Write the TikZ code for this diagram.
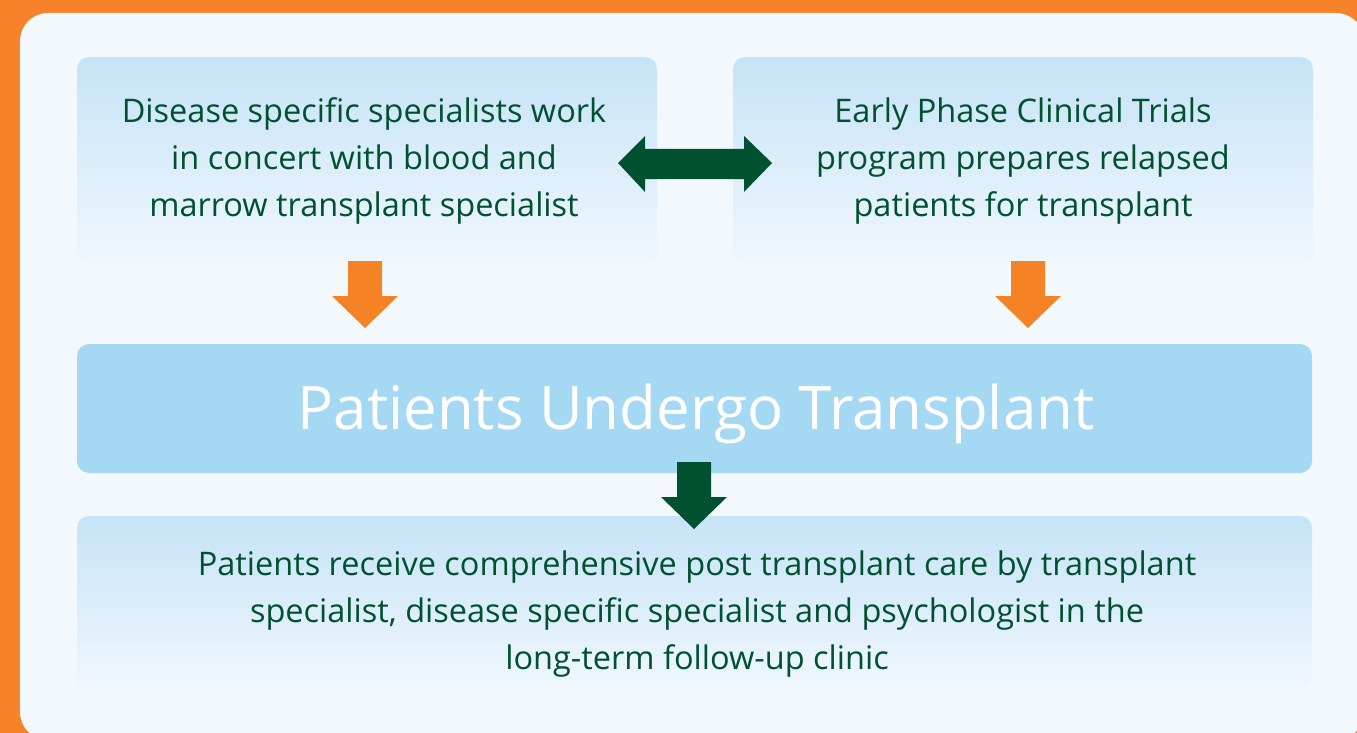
\documentclass[tikz,border=0pt]{standalone}
\usepackage{fontspec}
\setmainfont{Open Sans}
\usetikzlibrary{positioning}
\definecolor{bgorange}{RGB}{246,130,42}
\definecolor{panel}{RGB}{243,248,252}
\definecolor{boxtop}{RGB}{198,227,247}
\definecolor{boxbot}{RGB}{240,247,253}
\definecolor{midblue}{RGB}{165,216,243}
\definecolor{darkgreen}{RGB}{0,81,47}
\definecolor{arroworange}{RGB}{246,130,38}
\tikzset{
  infobox/.style={rounded corners=12pt, top color=boxtop, bottom color=boxbot, inner sep=0pt},
  midbox/.style={rounded corners=12pt, fill=midblue, inner sep=0pt},
  boxtext/.style={text=darkgreen, align=center, inner sep=0pt, font=\fontsize{32.5}{47}\selectfont},
  midtext/.style={text=white, inner sep=0pt, font=\fontsize{60}{66}\selectfont},
}
\begin{document}
\begin{tikzpicture}[x=1pt,y=-1pt]
            \useasboundingbox (0,0) rectangle (1357,733);
            \clip (0,0) rectangle (1357,733);
            \fill[bgorange] (0,0) rectangle (1357,733);
            \fill[panel, rounded corners=28pt] (20,13) rectangle (1364,740);
            % boxes
            \node[infobox, minimum width=580pt, minimum height=208pt] (disease) at (367,161) {};
            \node[infobox, minimum width=580pt, minimum height=208pt] (trials) at (1023,161) {};
            \node[midbox, minimum width=1235pt, minimum height=129pt] (transplant) at (694.5,408.5) {};
            \node[infobox, minimum width=1235pt, minimum height=174pt] (care) at (694.5,603) {};
            % texts
            \node[boxtext] (diseasetext) at (364,161)
                {Disease specific specialists work\\in concert with blood and\\marrow transplant specialist};
            \node[boxtext] (trialstext) at (1023,161)
                {Early Phase Clinical Trials\\program prepares relapsed\\patients for transplant};
            \node[midtext] (transplanttext) at (696,414) {Patients Undergo Transplant};
            \node[boxtext] (caretext) at (697,614)
                {Patients receive comprehensive post transplant care by transplant\\specialist, disease specific specialist and psychologist in the\\long-term follow-up clinic};
            % block arrows
            \fill[darkgreen] (618,163) -- (645,136) -- (645,149) -- (744,149) -- (744,136) -- (772,163)
                -- (744,192) -- (744,179) -- (645,179) -- (645,192) -- cycle;
            \fill[arroworange] (348,261) -- (382,261) -- (382,296) -- (398,296) -- (365,328)
                -- (332,296) -- (348,296) -- cycle;
            \fill[arroworange] (1011,261) -- (1045,261) -- (1045,296) -- (1061,296) -- (1028,328)
                -- (995,296) -- (1011,296) -- cycle;
            \fill[darkgreen] (677,462) -- (711,462) -- (711,497) -- (727,497) -- (694,529)
                -- (661,497) -- (677,497) -- cycle;
\end{tikzpicture}
\end{document}
